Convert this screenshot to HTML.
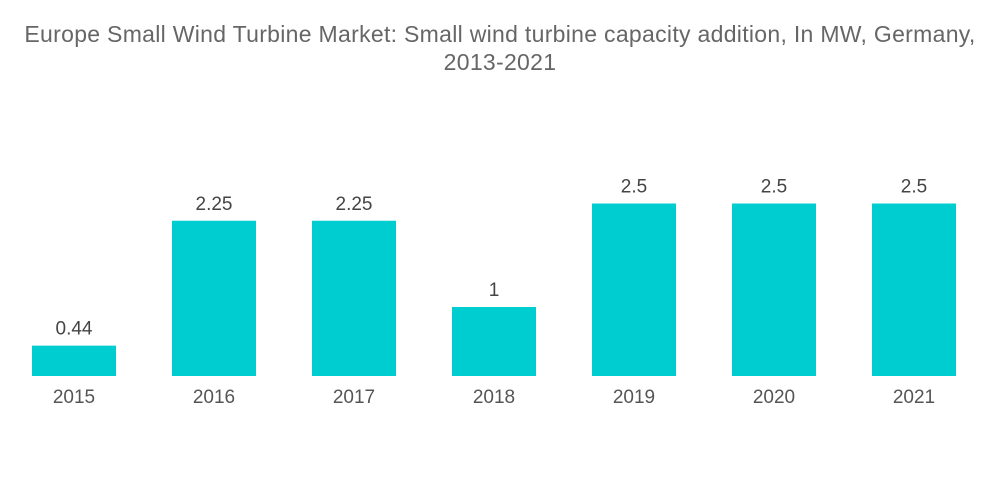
<!DOCTYPE html>
<html><head><meta charset="utf-8"><style>
html,body{margin:0;padding:0;background:#fff;}
body{width:1000px;height:504px;overflow:hidden;font-family:"Liberation Sans",sans-serif;}
.title{position:absolute;left:0;top:20px;width:1000px;text-align:center;color:#666;font-size:23px;letter-spacing:0.3px;line-height:28px;white-space:nowrap;}
</style></head><body>
<div class="title">Europe Small Wind Turbine Market: Small wind turbine capacity addition, In MW, Germany,<br>2013-2021</div>
<svg id="chart" width="1000" height="504" style="position:absolute;left:0;top:0"></svg>
<script>
const categories=["2015","2016","2017","2018","2019","2020","2021"];
const values=[0.44,2.25,2.25,1,2.5,2.5,2.5];
const valueLabels=["0.44","2.25","2.25","1","2.5","2.5","2.5"];
const svg=document.getElementById('chart');
const NS='http://www.w3.org/2000/svg';
const baseY=376, pxPerUnit=69, firstX=32, step=140, barW=84;
const y=v=>baseY-v*pxPerUnit;
const x=i=>firstX+i*step;
categories.forEach((c,i)=>{
  const r=document.createElementNS(NS,'rect');
  r.setAttribute('x',x(i));r.setAttribute('y',y(values[i]));
  r.setAttribute('width',barW);r.setAttribute('height',baseY-y(values[i]));
  r.setAttribute('fill','#00cdd0');
  
  
  svg.appendChild(r);
  const t=document.createElementNS(NS,'text');
  t.setAttribute('x',x(i)+barW/2);t.setAttribute('y',y(values[i])-11);
  t.setAttribute('text-anchor','middle');t.setAttribute('font-size','19');
  t.setAttribute('fill','#444');t.setAttribute('font-family','Liberation Sans, sans-serif');
  t.textContent=valueLabels[i];
  
  
  svg.appendChild(t);
  const l=document.createElementNS(NS,'text');
  l.setAttribute('x',x(i)+barW/2);l.setAttribute('y',403);
  l.setAttribute('text-anchor','middle');l.setAttribute('font-size','19');
  l.setAttribute('fill','#555');l.setAttribute('font-family','Liberation Sans, sans-serif');
  l.textContent=c;
  
  
  svg.appendChild(l);
});
</script>
</body></html>
